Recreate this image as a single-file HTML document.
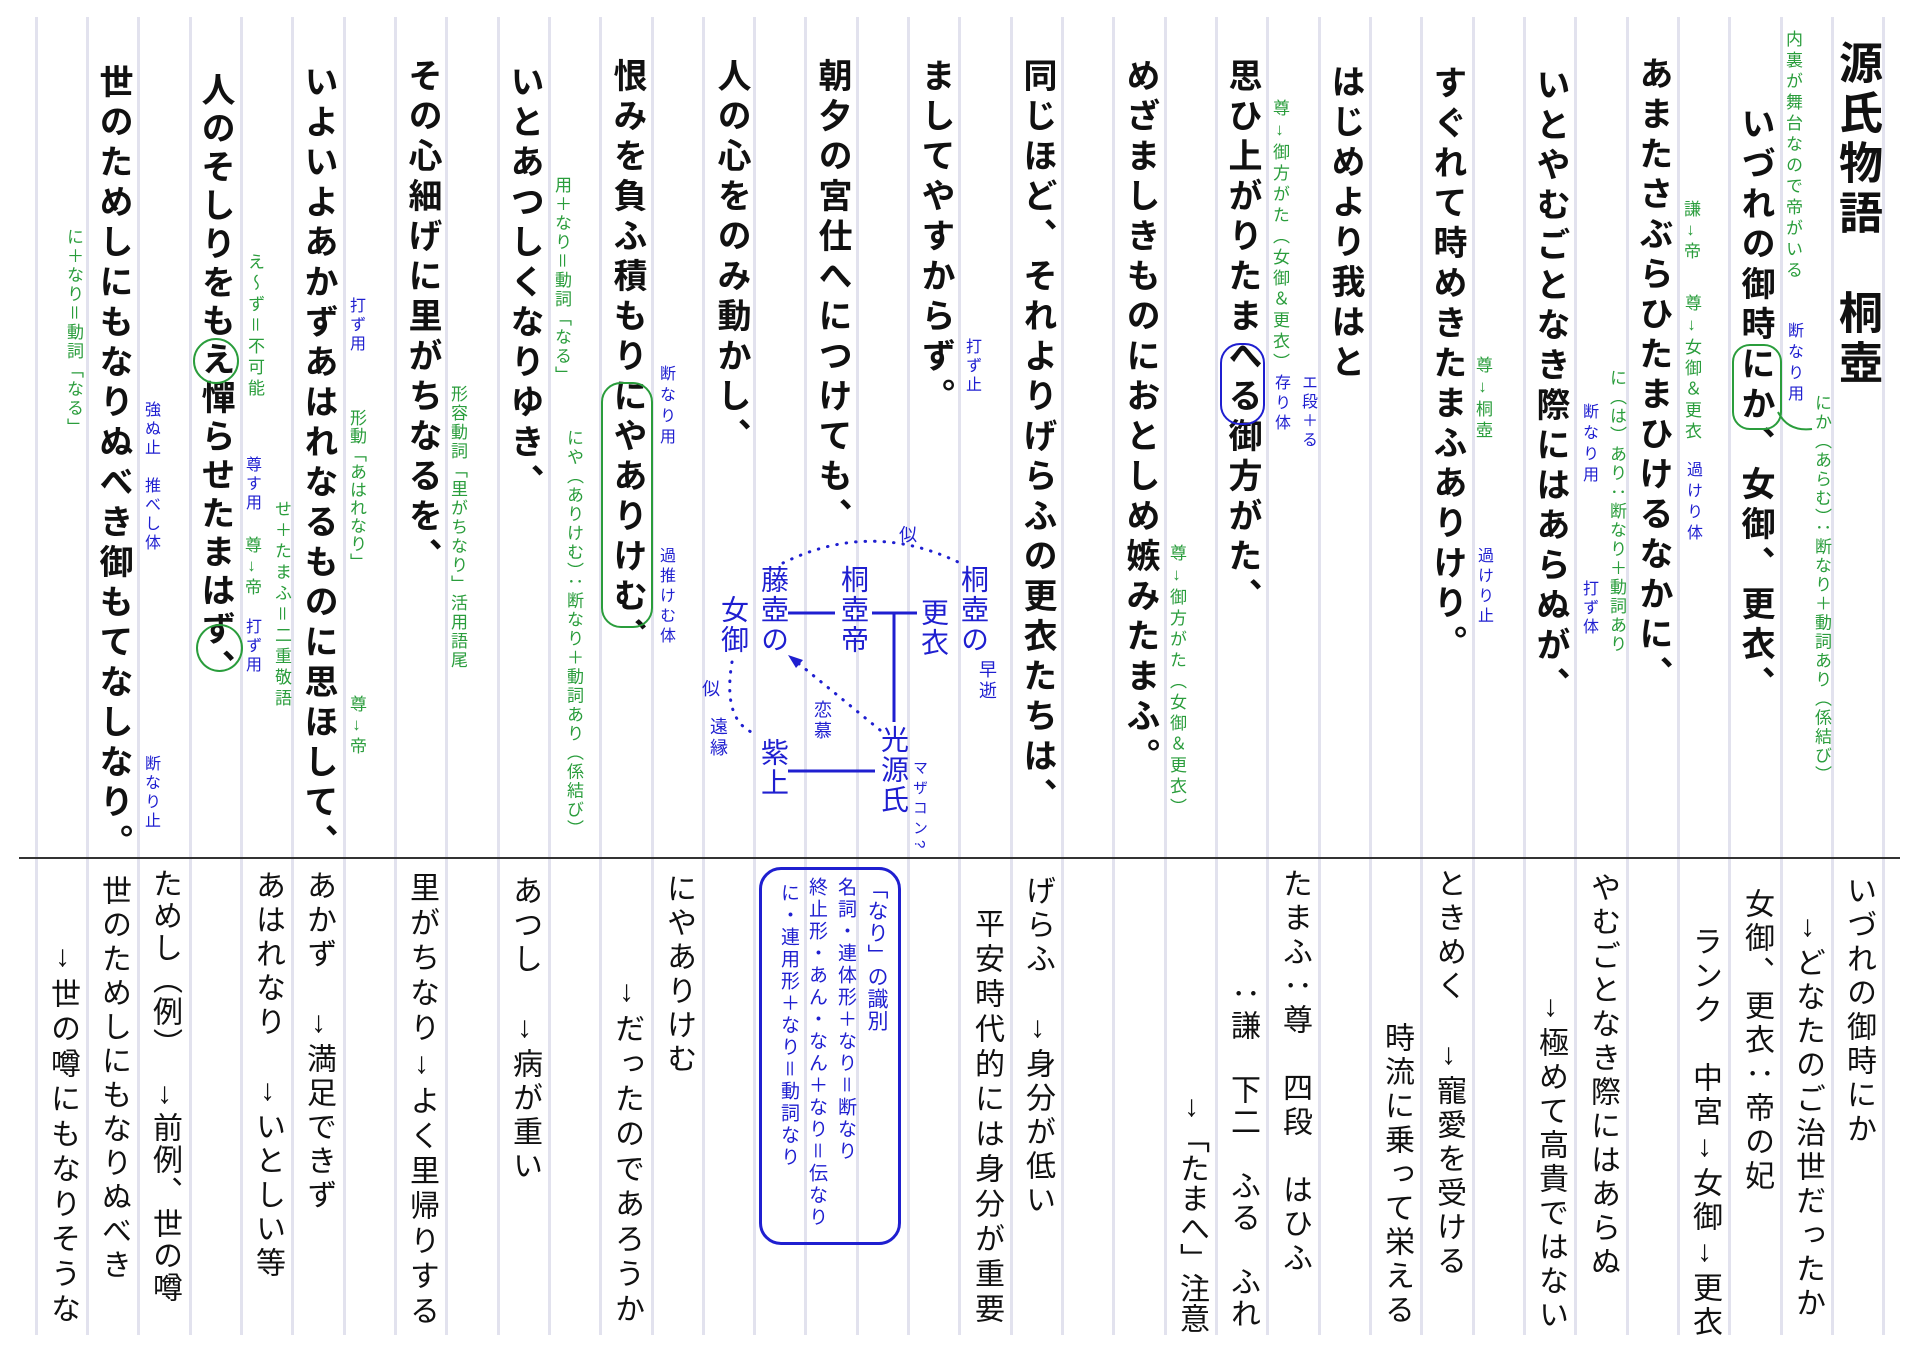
<!DOCTYPE html>
<html><head><meta charset="utf-8">
<style>
html,body{margin:0;padding:0;background:#fff;}
body{width:1920px;height:1358px;position:relative;overflow:hidden;font-family:"Liberation Sans","Noto Sans CJK JP",sans-serif;}
.v{position:absolute;writing-mode:vertical-rl;white-space:nowrap;line-height:1;}
.up{text-orientation:upright;}
.m{font-size:34px;letter-spacing:6px;font-weight:bold;color:#111;}
.b{font-size:30px;letter-spacing:4px;color:#111;}
.g{font-size:17px;letter-spacing:3px;color:#2a9d3c;}
.u{font-size:16px;letter-spacing:3px;color:#1f1fd0;}
.d{font-size:28px;letter-spacing:2px;color:#1f1fd0;}
.bx{font-size:19px;letter-spacing:3px;color:#1f1fd0;}
.ln{position:absolute;top:17px;height:1318px;width:3px;background:#e2e2ee;}
.c{position:absolute;border:2px solid #2a9d3c;}
</style></head><body>
<div id="lines"></div>
<div style="position:absolute;left:19px;top:857px;width:1881px;height:2px;background:#333;"></div>

<!-- Upper main text -->
<div class="v m" style="left:1834px;top:40px;font-size:44px;letter-spacing:6px;">源氏物語　桐壺</div>
<div class="v m" style="left:1738px;top:106px;">いづれの御時にか、女御、更衣、</div>
<div class="v m" style="left:1636px;top:56px;">あまたさぶらひたまひけるなかに、</div>
<div class="v m" style="left:1533px;top:67px;">いとやむごとなき際にはあらぬが、</div>
<div class="v m" style="left:1430px;top:65px;">すぐれて時めきたまふありけり。</div>
<div class="v m" style="left:1328px;top:64px;">はじめより我はと</div>
<div class="v m" style="left:1225px;top:58px;">思ひ上がりたまへる御方がた、</div>
<div class="v m" style="left:1123px;top:58px;">めざましきものにおとしめ嫉みたまふ。</div>
<div class="v m" style="left:1020px;top:58px;">同じほど、それよりげらふの更衣たちは、</div>
<div class="v m" style="left:918px;top:58px;">ましてやすからず。</div>
<div class="v m" style="left:815px;top:58px;">朝夕の宮仕へにつけても、</div>
<div class="v m" style="left:714px;top:58px;">人の心をのみ動かし、</div>
<div class="v m" style="left:610px;top:58px;">恨みを負ふ積もりにやありけむ、</div>
<div class="v m" style="left:507px;top:64px;">いとあつしくなりゆき、</div>
<div class="v m" style="left:405px;top:58px;">その心細げに里がちなるを、</div>
<div class="v m" style="left:301px;top:64px;">いよいよあかずあはれなるものに思ほして、</div>
<div class="v m" style="left:198px;top:72px;letter-spacing:4.5px;">人のそしりをもえ憚らせたまはず、</div>
<div class="v m" style="left:96px;top:64px;">世のためしにもなりぬべき御もてなしなり。</div>

<!-- circles -->
<div class="c" style="left:1732px;top:344px;width:46px;height:82px;border-radius:18px;"></div>
<div class="c" style="left:1220px;top:343px;width:41px;height:78px;border-radius:20px;border-color:#1f1fd0;"></div>
<div class="c" style="left:601px;top:382px;width:48px;height:242px;border-radius:20px;"></div>
<div class="c" style="left:193px;top:338px;width:42px;height:42px;border-radius:50%;"></div>
<div class="c" style="left:196px;top:624px;width:43px;height:44px;border-radius:50%;"></div>

<!-- annotations -->
<div class="v g" style="left:1784px;top:30px;letter-spacing:4px;">内裏が舞台なので帝がいる</div>
<div class="v u" style="left:1785px;top:322px;letter-spacing:5px;">断なり用</div>
<div class="v g" style="left:1813px;top:394px;letter-spacing:2px;">にか（あらむ）：断なり＋動詞あり（係結び）</div>
<div class="v g" style="left:1682px;top:200px;">謙↓帝</div>
<div class="v g" style="left:1683px;top:294px;letter-spacing:4px;">尊↓女御＆更衣</div>
<div class="v u" style="left:1684px;top:461px;letter-spacing:5px;">過けり体</div>
<div class="v g" style="left:1608px;top:369px;letter-spacing:2px;">に（は）あり：断なり＋動詞あり</div>
<div class="v u" style="left:1580px;top:403px;letter-spacing:5px;">断なり用</div>
<div class="v u" style="left:1580px;top:580px;">打ず体</div>
<div class="v g" style="left:1474px;top:356px;letter-spacing:4px;">尊↓桐壺</div>
<div class="v u" style="left:1475px;top:547px;letter-spacing:4px;">過けり止</div>
<div class="v g" style="left:1271px;top:99px;letter-spacing:4px;">尊↓御方がた（女御＆更衣）</div>
<div class="v u" style="left:1272px;top:374px;letter-spacing:4px;">存り体</div>
<div class="v u" style="left:1299px;top:374px;">エ段＋る</div>
<div class="v g" style="left:1168px;top:544px;letter-spacing:4px;">尊↓御方がた（女御＆更衣）</div>
<div class="v u" style="left:963px;top:338px;">打ず止</div>
<div class="v u" style="left:657px;top:365px;letter-spacing:5px;">断なり用</div>
<div class="v u" style="left:657px;top:547px;letter-spacing:4px;">過推けむ体</div>
<div class="v g" style="left:553px;top:176px;letter-spacing:2px;">用＋なり＝動詞「なる」</div>
<div class="v g" style="left:565px;top:429px;letter-spacing:2px;">にや（ありけむ）：断なり＋動詞あり（係結び）</div>
<div class="v g" style="left:449px;top:385px;letter-spacing:2px;">形容動詞「里がちなり」活用語尾</div>
<div class="v u" style="left:347px;top:297px;">打ず用</div>
<div class="v g" style="left:348px;top:409px;letter-spacing:1px;">形動「あはれなり」</div>
<div class="v g" style="left:348px;top:695px;">尊↓帝</div>
<div class="v g" style="left:246px;top:253px;letter-spacing:4px;">え〜ず＝不可能</div>
<div class="v u" style="left:243px;top:456px;">尊す用</div>
<div class="v g" style="left:243px;top:536px;">尊↓帝</div>
<div class="v u" style="left:243px;top:618px;">打ず用</div>
<div class="v g" style="left:273px;top:500px;letter-spacing:4px;">せ＋たまふ＝二重敬語</div>
<div class="v u" style="left:142px;top:401px;">強ぬ止　推べし体</div>
<div class="v u" style="left:142px;top:755px;">断なり止</div>
<div class="v g" style="left:65px;top:228px;letter-spacing:2px;">に＋なり＝動詞「なる」</div>

<!-- diagram -->
<svg width="1920" height="1358" style="position:absolute;left:0;top:0;" xmlns="http://www.w3.org/2000/svg">
<g fill="none" stroke="#1f1fd0" stroke-width="3">
<path d="M788,613 H835 M872,613 H917 M894,613 V722 M788,771 H875"/>
</g>
<g fill="none" stroke="#1f1fd0" stroke-width="3" stroke-linecap="round" stroke-dasharray="0.5 9">
<path d="M783,563 Q870,520 958,562"/>
<path d="M880,730 L798,663"/>
<path d="M732,662 Q722,722 756,734"/>
</g>
<polygon points="788,655 803,660 796,668" fill="#1f1fd0"/>
<path d="M1778,412 Q1788,432 1812,429" fill="none" stroke="#2a9d3c" stroke-width="2"/>
</svg>
<div class="v d" style="left:759px;top:565px;">藤壺の</div>
<div class="v d" style="left:719px;top:595px;">女御</div>
<div class="v d" style="left:839px;top:565px;">桐壺帝</div>
<div class="v d" style="left:919px;top:598px;">更衣</div>
<div class="v d" style="left:959px;top:565px;">桐壺の</div>
<div class="v d" style="left:879px;top:725px;">光源氏</div>
<div class="v d" style="left:759px;top:738px;">紫上</div>
<div class="v u" style="left:898px;top:525px;font-size:18px;">似</div>
<div class="v u" style="left:978px;top:660px;font-size:18px;">早逝</div>
<div class="v u" style="left:912px;top:760px;font-size:15px;letter-spacing:5px;">マザコン?</div>
<div class="v u" style="left:813px;top:700px;font-size:18px;">恋慕</div>
<div class="v u" style="left:701px;top:679px;font-size:18px;">似</div>
<div class="v u" style="left:709px;top:717px;font-size:18px;">遠縁</div>

<!-- lower section -->
<div class="v b" style="left:1843px;top:875px;">いづれの御時にか</div>
<div class="v b" style="left:1792px;top:910px;">↓どなたのご治世だったか</div>
<div class="v b" style="left:1741px;top:888px;">女御、更衣：帝の妃</div>
<div class="v b" style="left:1689px;top:926px;">ランク　中宮↓女御↓更衣</div>
<div class="v b" style="left:1587px;top:872px;">やむごとなき際にはあらぬ</div>
<div class="v b" style="left:1535px;top:990px;">↓極めて高貴ではない</div>
<div class="v b" style="left:1433px;top:868px;">ときめく　↓寵愛を受ける</div>
<div class="v b" style="left:1381px;top:1022px;">時流に乗って栄える</div>
<div class="v b" style="left:1279px;top:868px;">たまふ：尊　四段　はひふ</div>
<div class="v b" style="left:1227px;top:978px;letter-spacing:2px;">：謙　下二　ふる　ふれ</div>
<div class="v b" style="left:1176px;top:1090px;letter-spacing:0;">↓「たまへ」注意</div>
<div class="v b" style="left:1022px;top:875px;">げらふ　↓身分が低い</div>
<div class="v b" style="left:971px;top:908px;letter-spacing:5px;">平安時代的には身分が重要</div>

<div style="position:absolute;left:759px;top:867px;width:136px;height:372px;border:3px solid #1f1fd0;border-radius:22px;"></div>
<div class="v bx" style="left:866px;top:878px;font-size:21px;letter-spacing:1px;">「なり」の識別</div>
<div class="v bx" style="left:836px;top:877px;">名詞・連体形＋なり＝断なり</div>
<div class="v bx" style="left:807px;top:877px;">終止形・あん・なん＋なり＝伝なり</div>
<div class="v bx" style="left:779px;top:883px;">に・連用形＋なり＝動詞なり</div>

<div class="v b" style="left:663px;top:873px;">にやありけむ</div>
<div class="v b" style="left:611px;top:975px;letter-spacing:5px;">↓だったのであろうか</div>
<div class="v b" style="left:509px;top:875px;">あつし　↓病が重い</div>
<div class="v b" style="left:406px;top:872px;letter-spacing:5px;">里がちなり↓よく里帰りする</div>
<div class="v b" style="left:303px;top:870px;">あかず　↓満足できず</div>
<div class="v b" style="left:252px;top:870px;">あはれなり　↓いとしい等</div>
<div class="v b" style="left:149px;top:868px;letter-spacing:2px;">ためし（例）　↓前例、世の噂</div>
<div class="v b" style="left:98px;top:875px;">世のためしにもなりぬべき</div>
<div class="v b" style="left:47px;top:940px;letter-spacing:5px;">↓世の噂にもなりそうな</div>
<script>
(function(){
var h='';for(var k=0;k<=36;k++){var x=36+51.33*k-1.5;h+='<div class="ln" style="left:'+x.toFixed(1)+'px"></div>';}
document.getElementById('lines').innerHTML=h;
var els=document.querySelectorAll('.v');
for(var i=0;i<els.length;i++){var e=els[i];if(e.innerHTML.indexOf('↓')>=0){e.innerHTML=e.innerHTML.split('↓').join('<span class="up">↓</span>');}}
})();
</script>
</body></html>
